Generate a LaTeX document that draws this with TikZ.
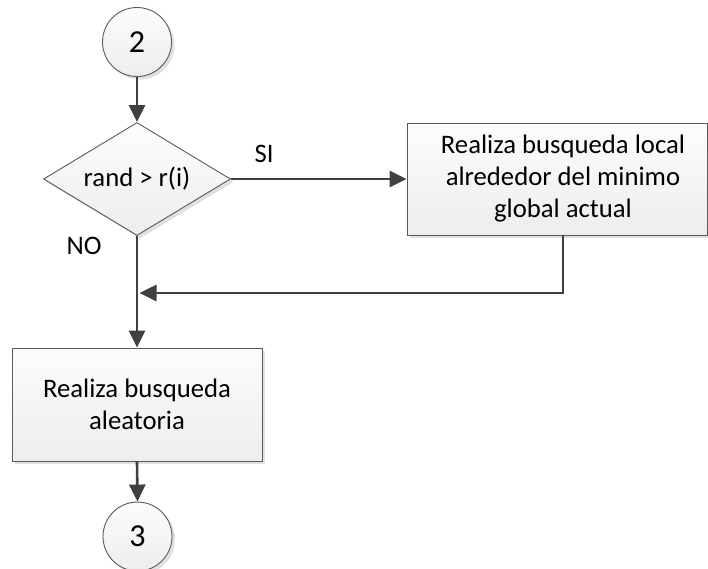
\documentclass[tikz,border=0pt]{standalone}
\usepackage{fontspec}
\setmainfont{Carlito}
\usetikzlibrary{shapes.geometric,arrows.meta,shadows}

\definecolor{linegray}{HTML}{404040}
\definecolor{edgegray}{HTML}{5A5A5A}

\tikzset{
  shapebase/.style={draw=edgegray, line width=0.9pt,
    top color=black!1, bottom color=black!7,
    drop shadow={shadow xshift=3pt, shadow yshift=-3pt, fill=black!12, opacity=1},
    font=\fontsize{26.7}{32}\selectfont, align=center, inner sep=0pt},
  procbox/.style={shapebase, rectangle},
  decision/.style={shapebase, diamond, aspect=1.65},
  connector/.style={shapebase, circle, minimum size=69pt,
    font=\fontsize{32}{36}\selectfont},
  flow/.style={draw=linegray, line width=2.6pt,
    -{Triangle[length=17pt,width=16pt]}},
  lbl/.style={font=\fontsize{26.7}{32}\selectfont, text=black}
}

\begin{document}
\begin{tikzpicture}[x=1pt, y=-1pt]
  \useasboundingbox (0,0) rectangle (708,568);

  % nodes
  \node[connector] (c2) at (137,42) {2};
  \node[decision, minimum width=187pt, minimum height=113pt] (dec) at (137,179) {rand > r(i)};
  \node[procbox, minimum width=300pt, minimum height=112pt] (box1) at (557,179)
    {\hspace*{12pt}Realiza busqueda local\\\hspace*{12pt}alrededor del minimo\\\hspace*{12pt}global actual};
  \node[procbox, minimum width=250pt, minimum height=113pt] (box2) at (137,404.5)
    {Realiza busqueda\\aleatoria};
  \node[connector] (c3) at (137.5,536.5) {3};

  % labels
  \node[lbl] (si) at (264,154) {SI};
  \node[lbl] (no) at (84,246) {NO};

  % helper points of the return line
  \coordinate (turn) at (563,293);
  \coordinate (join) at (139.5,293);

  % connectors
  \draw[flow] (c2) -- (dec.north);
  \draw[flow] (dec.east) -- (box1.west);
  \draw[flow] (dec.south) -- (box2.north);
  \draw[flow] (box1.south -| turn) -- (turn) -- (join);
  \draw[flow] (box2.south) -- (c3.north);
\end{tikzpicture}
\end{document}
